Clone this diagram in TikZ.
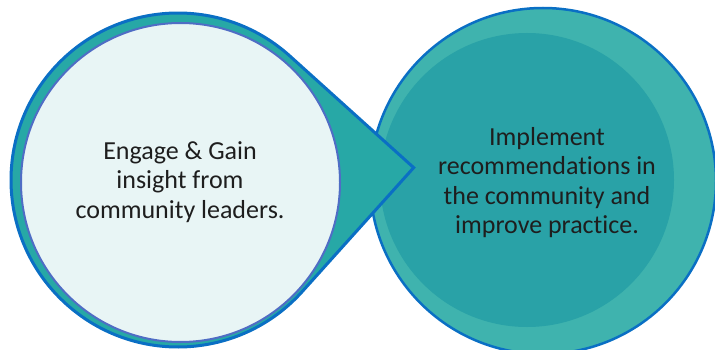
\documentclass[tikz,border=0pt]{standalone}
\usepackage{fontspec}
\setmainfont{Carlito}[RawFeature={-liga;-clig;-calt}]
\usetikzlibrary{calc}
\definecolor{ink}{HTML}{1E1E1E}
\definecolor{edge}{HTML}{0A6FC4}
\definecolor{rim}{HTML}{4F6DC5}
\definecolor{teal}{HTML}{27A8A6}
\definecolor{tealsoft}{HTML}{3FB3AE}
\definecolor{tealdeep}{HTML}{29A2A7}
\definecolor{mist}{HTML}{E8F5F5}
\tikzset{
  drop/.style={draw=edge,fill=teal,line width=3pt,line join=miter},
  bubble/.style={circle,draw=rim,fill=mist,line width=2pt,inner sep=0pt,minimum size=#1},
  disc/.style={circle,fill=#1,inner sep=0pt},
  caption/.style={align=center,text=ink,font=\fontsize{26}{29.6}\selectfont}
}

\begin{document}
\begin{tikzpicture}[x=1pt,y=1pt]
    \useasboundingbox (0,0) rectangle (715,349);

    \node[disc=tealsoft,draw=edge,line width=2.5pt,minimum size=346pt] (act) at (543,168) {};
    \node[disc=tealdeep,minimum size=294pt] (actcore) at (527,169) {};
    \node[caption] (implement) at (547,166.5) {Implement\\recommendations in\\the community and\\improve practice.};

    \coordinate (lc) at (178,169);
    \coordinate (tip) at ($(lc)+(3:236)$);
    \draw[drop] (tip) -- ($(lc)+(48:167)$) arc[start angle=48,end angle=318,radius=167] -- cycle;

    \node[bubble=319pt] (gather) at (180.5,166.5) {};
    \node[caption] (engage) at (180,167) {Engage \& Gain\\insight from\\community leaders.};
  \end{tikzpicture}
\end{document}
